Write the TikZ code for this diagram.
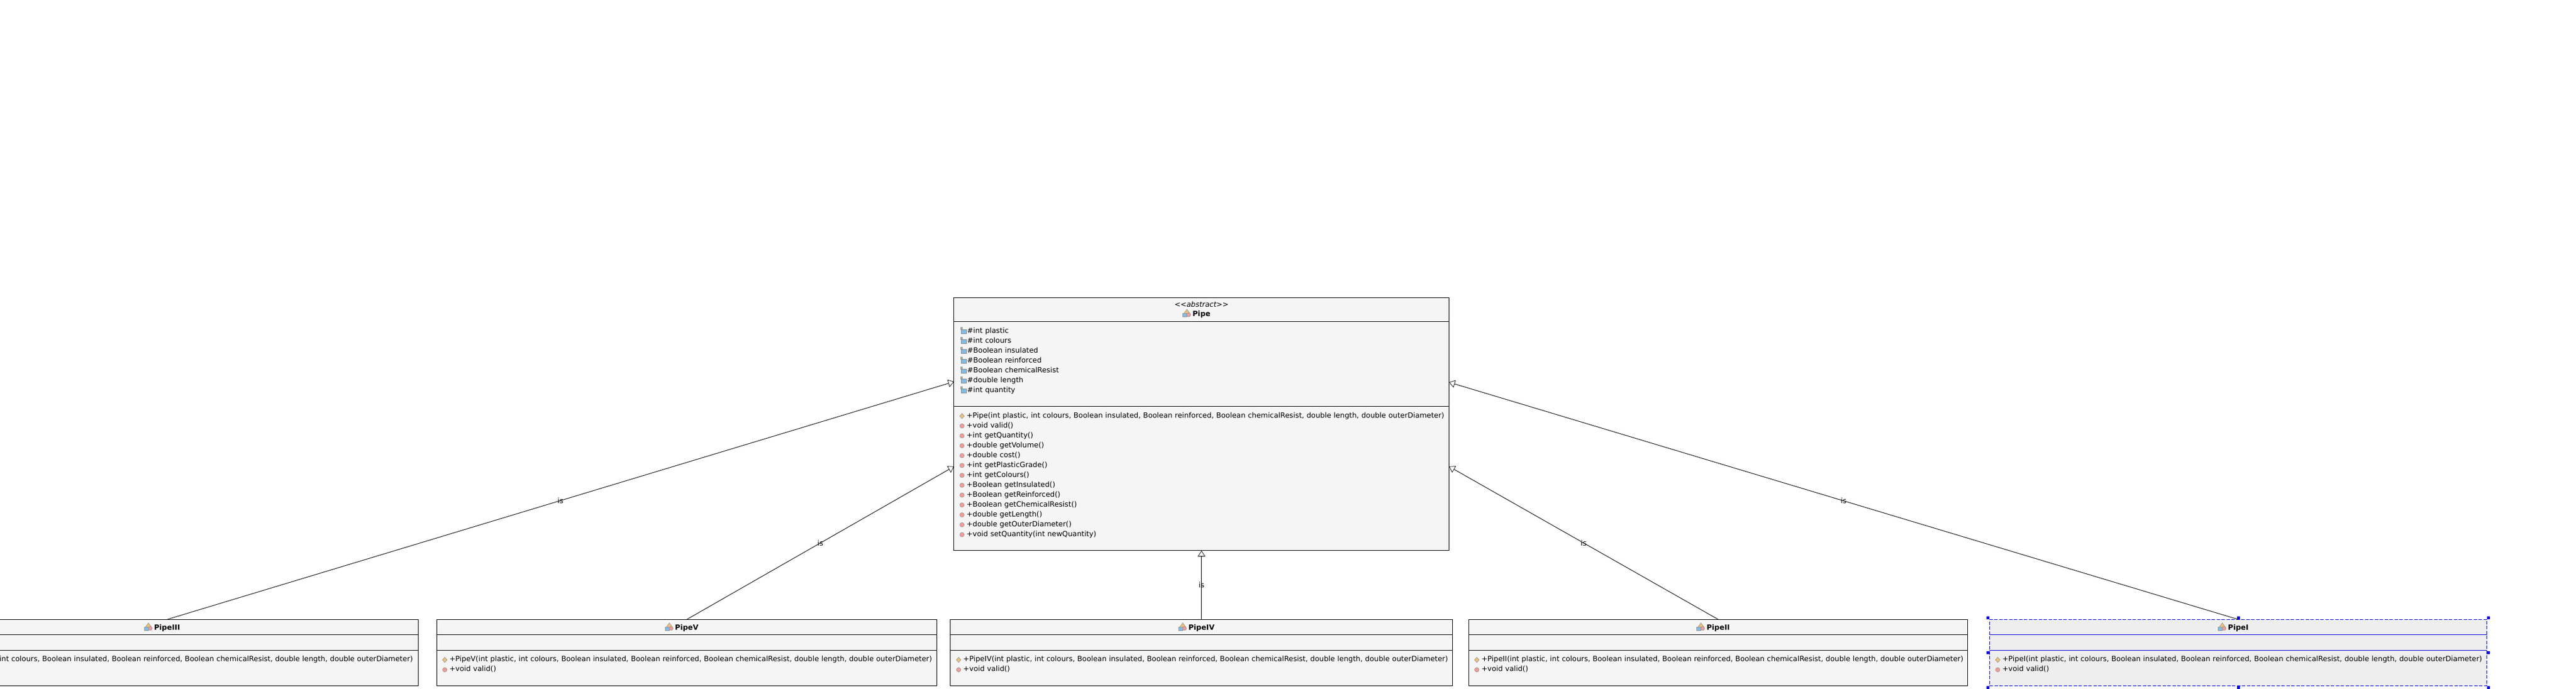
\documentclass[tikz,border=0pt]{standalone}
\usepackage{fontspec}
\setmainfont{DejaVu Sans}
\usepackage{tikz}
\usetikzlibrary{positioning}
\usetikzlibrary{arrows.meta}

\definecolor{boxgray}{HTML}{F5F5F5}
\definecolor{selgray}{HTML}{EEEEEE}
\definecolor{selblue}{HTML}{0000E0}
\definecolor{iconblue}{HTML}{7FBCE6}
\definecolor{iconred}{HTML}{F49A96}
\definecolor{iconorange}{HTML}{EFC077}

% small icons in front of the members, one unit is one pixel
\newcommand{\attricon}{\tikz[x=0.01cm,y=0.01cm,baseline=0pt]{\useasboundingbox (-2,0) rectangle (11,8);
    \fill[gray!70] (-1,5) rectangle (3,10);
    \fill[iconblue, draw=black!45, line width=0.2pt] (1,-1) rectangle (10,6);}}
\newcommand{\opicon}{\tikz[x=0.01cm,y=0.01cm,baseline=0pt]{\useasboundingbox (0,0) rectangle (12,8);
    \fill[iconred, draw=gray!80, line width=0.2pt] (4,3) circle (3.8);}}
\newcommand{\ctoricon}{\tikz[x=0.01cm,y=0.01cm,baseline=0pt]{\useasboundingbox (0,0) rectangle (12,8);
    \fill[iconorange, draw=gray!80, line width=0.2pt] (0,3) -- (4,7.5) -- (8,3) -- (4,-1.5) -- cycle;}}
\newcommand{\classicon}{\llap{\tikz[x=0.01cm,y=0.01cm,baseline=0pt]{
    \fill[iconorange, draw=gray!80, line width=0.2pt] (2,5) -- (7,12) -- (12,5) -- (7,0) -- cycle;
    \fill[iconblue, draw=gray!80, line width=0.2pt] (0,-1) rectangle (7,5);
    \fill[iconred, draw=gray!80, line width=0.2pt] (10,2.5) circle (3.4);}\hspace{0.03cm}}}
\newcommand{\ctorline}[1]{\ctoricon\mbox{+#1(int plastic, int colours, Boolean insulated, Boolean reinforced, Boolean chemicalResist, double length, double outerDiameter)}}
\newcommand{\subops}[1]{\ctorline{#1}\\\opicon+void valid()}

\tikzset{
    umlfont/.style={font=\fontsize{3.535}{4.837}\selectfont},
    part/.style={draw, rectangle, fill=boxgray, line width=0.28pt, outer sep=0pt, umlfont},
    titlepart/.style={part, align=center, inner sep=0pt, minimum width=#1, minimum height=0.26cm},
    emptypart/.style={part, inner sep=0pt, minimum width=#1, minimum height=0.27cm},
    memberpart/.style={part, align=left, inner xsep=0.1cm, inner ysep=0pt, text width=#1, text height=0.195cm, text depth=0.415cm},
    selected/.style={fill=selgray, draw=none},
    isa/.style={-{Triangle[open, fill=white, line width=0.2pt, length=0.10cm, width=0.13cm]}, line width=0.25pt},
    islabel/.style={umlfont, inner sep=0pt},
    handle/.style={fill=selblue, inner sep=0pt, minimum size=0.05cm},
}

\begin{document}
\begin{tikzpicture}[x=0.01cm, y=-0.01cm]
    \useasboundingbox (0,0) rectangle (4431,1186);

    % Abstract class
    \node (pipeTitle) [titlepart=8.515cm, minimum height=0.41cm] at (2066.7,532.8)
    {\textit{<{}<abstract>{}>}\\[-0.2pt]\classicon\textbf{Pipe}};
    \node (pipeAttrs) [below=0pt of pipeTitle, memberpart=8.315cm, text height=0.20cm, text depth=1.263cm]
    {\attricon\#int plastic\\
     \attricon\#int colours\\
     \attricon\#Boolean insulated\\
     \attricon\#Boolean reinforced\\
     \attricon\#Boolean chemicalResist\\
     \attricon\#double length\\
     \attricon\#int quantity};
    \node (pipeOps) [below=0pt of pipeAttrs, memberpart=8.315cm, text depth=2.285cm]
    {\ctorline{Pipe}\\
     \opicon+void valid()\\
     \opicon+int getQuantity()\\
     \opicon+double getVolume()\\
     \opicon+double cost()\\
     \opicon+int getPlasticGrade()\\
     \opicon+int getColours()\\
     \opicon+Boolean getInsulated()\\
     \opicon+Boolean getReinforced()\\
     \opicon+Boolean getChemicalResist()\\
     \opicon+double getLength()\\
     \opicon+double getOuterDiameter()\\
     \opicon+void setQuantity(int newQuantity)};

    % Where the side arrows meet the abstract class
    \coordinate (pipeUpperLeft) at (1641,657);
    \coordinate (pipeLowerLeft) at (1641,803);
    \coordinate (pipeUpperRight) at (2492.5,658);
    \coordinate (pipeLowerRight) at (2492.5,803);

    % PipeIII
    \node (pipeIIITitle) [titlepart=8.63cm] at (287.4,1079.3) {\classicon\textbf{PipeIII}};
    \node (pipeIIIAttrs) [below=0pt of pipeIIITitle, emptypart=8.63cm] {};
    \node (pipeIIIOps) [below=0pt of pipeIIIAttrs, memberpart=8.43cm] {\subops{PipeIII}};

    % PipeV
    \node (pipeVTitle) [titlepart=8.60cm] at (1181.3,1079.3) {\classicon\textbf{PipeV}};
    \node (pipeVAttrs) [below=0pt of pipeVTitle, emptypart=8.60cm] {};
    \node (pipeVOps) [below=0pt of pipeVAttrs, memberpart=8.40cm] {\subops{PipeV}};

    % PipeIV
    \node (pipeIVTitle) [titlepart=8.63cm] at (2066.7,1079.3) {\classicon\textbf{PipeIV}};
    \node (pipeIVAttrs) [below=0pt of pipeIVTitle, emptypart=8.63cm] {};
    \node (pipeIVOps) [below=0pt of pipeIVAttrs, memberpart=8.43cm] {\subops{PipeIV}};

    % PipeII
    \node (pipeIITitle) [titlepart=8.58cm] at (2955.5,1079.3) {\classicon\textbf{PipeII}};
    \node (pipeIIAttrs) [below=0pt of pipeIITitle, emptypart=8.58cm] {};
    \node (pipeIIOps) [below=0pt of pipeIIAttrs, memberpart=8.38cm] {\subops{PipeII}};

    % PipeI, the selected one
    \node (pipeITitle) [titlepart=8.55cm, selected] at (3850,1079.3) {\classicon\textbf{PipeI}};
    \node (pipeIAttrs) [below=0pt of pipeITitle, emptypart=8.55cm, selected] {};
    \node (pipeIOps) [below=0pt of pipeIAttrs, memberpart=8.35cm, selected] {\subops{PipeI}};
    \draw[selblue, line width=0.28pt] (pipeITitle.south west) -- (pipeITitle.south east);
    \draw[selblue, line width=0.28pt] (pipeIAttrs.south west) -- (pipeIAttrs.south east);
    \node (pipeIFrame) [draw=selblue, line width=0.28pt, dash pattern=on 0.06cm off 0.025cm, outer sep=0.03cm, inner sep=0pt, minimum width=8.55cm, minimum height=1.14cm] at (3850,1123.3) {};
    \foreach \corner in {north west, north, north east, west, east, south west, south, south east}
        \node (pipeIHandle) [handle] at (pipeIFrame.\corner) {};

    % Inheritance arrows
    \draw[isa] (pipeIIITitle.north) -- node (isIII) [islabel] {is} (pipeUpperLeft);
    \draw[isa] (pipeVTitle.north) -- node (isV) [islabel] {is} (pipeLowerLeft);
    \draw[isa] (pipeIVTitle.north) -- node (isIV) [islabel] {is} (pipeOps.south);
    \draw[isa] (pipeIITitle.north) -- node (isII) [islabel] {is} (pipeLowerRight);
    \draw[isa] (pipeITitle.north) -- node (isI) [islabel] {is} (pipeUpperRight);
\end{tikzpicture}
\end{document}
